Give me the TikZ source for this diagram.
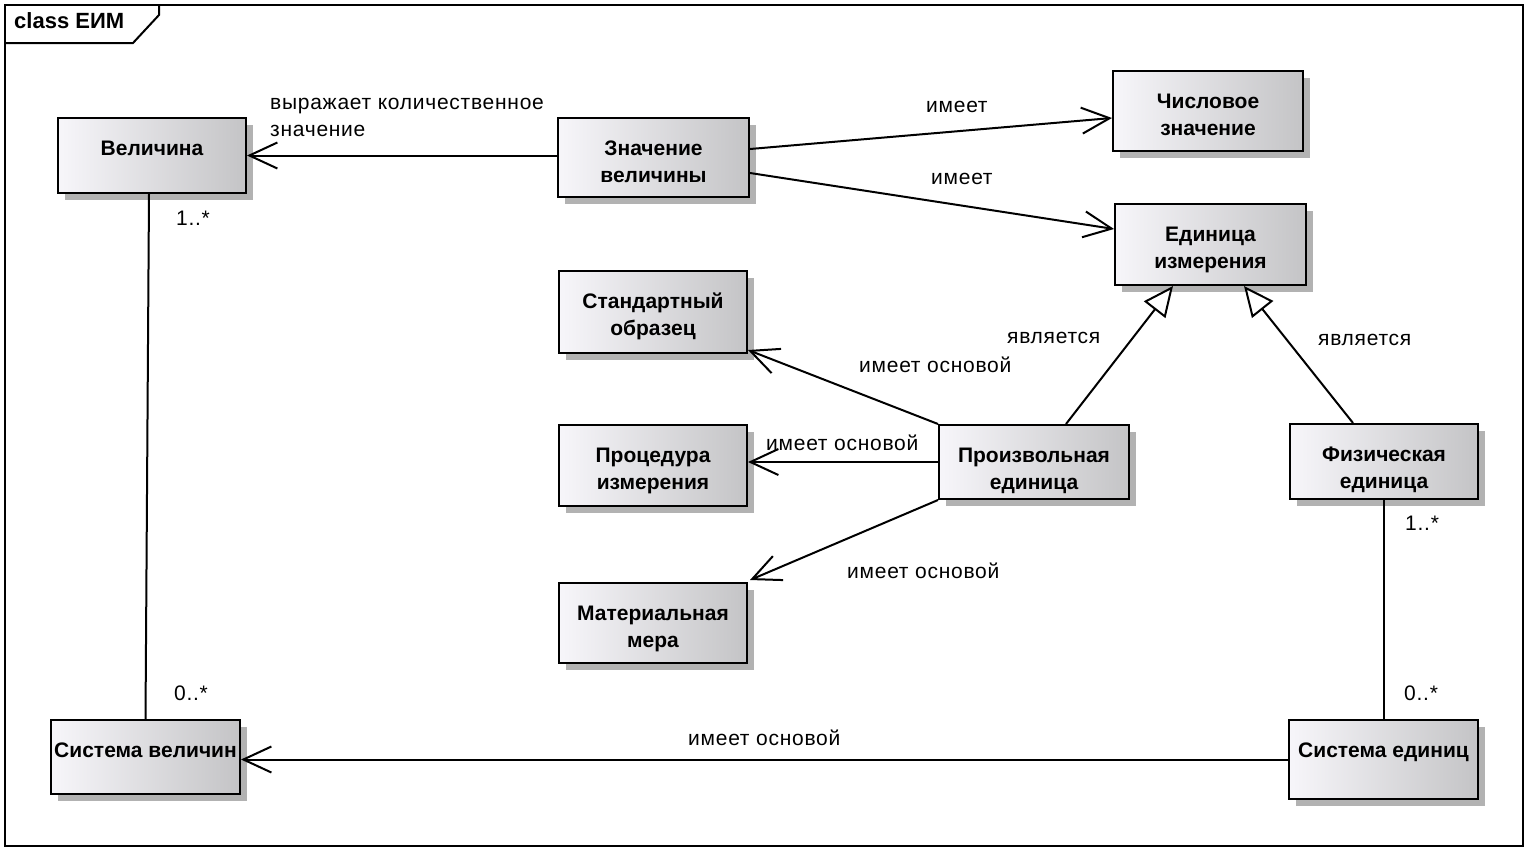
\documentclass[tikz,border=0pt]{standalone}
\usepackage{fontspec}
\setmainfont{Liberation Sans}
\newfontfamily\labfont[LetterSpace=3.5]{Liberation Sans}
\usetikzlibrary{arrows.meta,shadows}
\definecolor{shadowc}{RGB}{178,178,178}
\definecolor{boxl}{RGB}{247,246,250}
\definecolor{boxm}{RGB}{234,234,236}
\definecolor{boxr}{RGB}{196,196,198}
\newcommand\umlcls[6]{%
  \pgfmathsetmacro\clsW{#4-#2}\pgfmathsetmacro\clsH{#5-#3}%
  \node[umlbox, minimum width=\clsW pt, minimum height=\clsH pt] (#1) at (#2,#3) {};
  \node[clstext] (#1t) at ([yshift=-19.6pt]#1.north) {\strut #6};}
\begin{document}
\begin{tikzpicture}[x=1pt,y=-1pt,
  umlbox/.style={draw, line width=2pt, left color=boxl, middle color=boxm, right color=boxr,
    drop shadow={shadow xshift=7pt,shadow yshift=-7pt,fill=shadowc,opacity=1},
    inner sep=0, anchor=north west},
  clstext/.style={font=\bfseries\fontsize{21}{27}\selectfont, align=center, anchor=north, inner sep=0},
  lab/.style={font=\labfont\fontsize{21}{27}\selectfont, anchor=base west, inner sep=0},
  assoc/.style={line width=2pt, -{Straight Barb[length=28pt,width=26pt,line width=2pt]}},
  gen/.style={line width=2pt, -{Triangle[open,length=30pt,width=27pt,fill=white,line width=2pt]}},
  plain/.style={line width=2pt}]
\useasboundingbox (0,0) rectangle (1528,849);
% frame
\draw[line width=2pt] (5,5) rectangle (1523,846);
\draw[line width=2pt] (5,43) -- (133,43) -- (159,15) -- (159,5);
\node[font=\bfseries\fontsize{22}{27}\selectfont, anchor=base west, inner sep=0] (title) at (14,28.5) {class ЕИМ};
% classes
\umlcls{vel}{57}{117}{245}{192}{Величина}
\umlcls{zv}{557}{117}{748}{196}{Значение\\величины}
\umlcls{chisl}{1112}{70}{1302}{150}{Числовое\\значение}
\umlcls{edin}{1114}{203}{1305}{284}{Единица\\измерения}
\umlcls{std}{558}{270}{746}{352}{Стандартный\\образец}
\umlcls{proc}{558}{424}{746}{505}{Процедура\\измерения}
\umlcls{mat}{558}{582}{746}{662}{Материальная\\мера}
\umlcls{proizv}{938}{424}{1128}{498}{Произвольная\\единица}
\umlcls{fiz}{1289}{423}{1477}{498}{Физическая\\единица}
\umlcls{sv}{50}{719}{239}{793}{Система величин}
\umlcls{se}{1288}{719}{1477}{798}{Система единиц}
% connectors
\draw[assoc] (zv.west |- vel.east) -- (vel.east);
\draw[assoc] ([yshift=8.5pt]zv.east) -- ([yshift=-7pt]chisl.west);
\draw[assoc] ([yshift=-15.5pt]zv.east) -- ([yshift=15.5pt]edin.west);
\draw[assoc] (proizv.north west) -- ([yshift=4pt]std.south east);
\draw[assoc] (proizv.west) -- (proizv.west -| proc.east);
\draw[assoc] (proizv.south west) -- ([xshift=2pt,yshift=2pt]mat.north east);
\draw[gen] ([xshift=32pt]proizv.north) -- ([xshift=-37.5pt]edin.south);
\draw[gen] ([xshift=-31pt]fiz.north) -- ([xshift=33.5pt]edin.south);
\draw[plain] ([xshift=-3pt]vel.south) -- (sv.north);
\draw[plain] (fiz.south) -- (fiz.south |- se.north);
\draw[assoc] (se.west) -- (se.west -| sv.east);
% labels
\node[lab, anchor=north west, align=left] (l1) at (270,90.6) {\strut выражает количественное\\значение};
\node[lab] (l2) at (926,112.5) {имеет};
\node[lab] (l3) at (931,184.5) {имеет};
\node[lab] (l4) at (1007,343.5) {является};
\node[lab] (l5) at (1318,345.5) {является};
\node[lab] (l6) at (859,372.5) {имеет основой};
\node[lab] (l7) at (766,450.5) {имеет основой};
\node[lab] (l8) at (847,578.5) {имеет основой};
\node[lab] (l9) at (688,745.5) {имеет основой};
\node[lab] (m1) at (176,225.5) {1..*};
\node[lab] (m2) at (174,700.5) {0..*};
\node[lab] (m3) at (1405,530.5) {1..*};
\node[lab] (m4) at (1404,700.5) {0..*};
\end{tikzpicture}
\end{document}
